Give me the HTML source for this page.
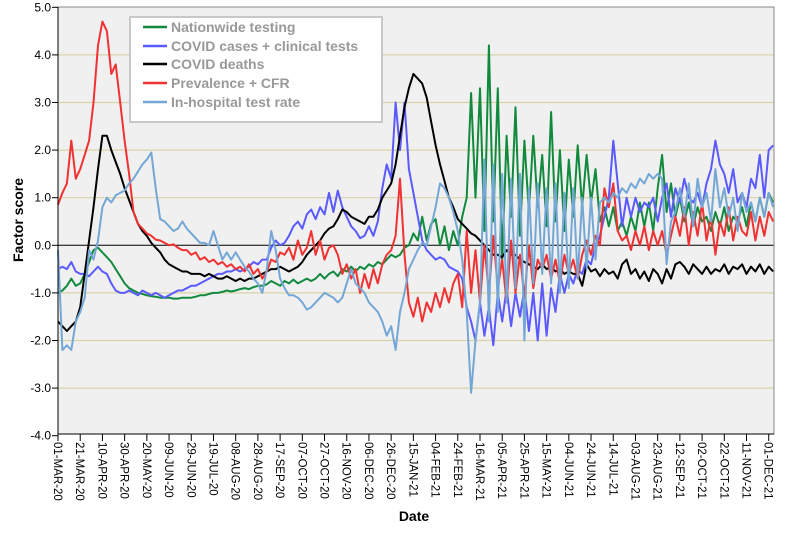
<!DOCTYPE html>
<html><head><meta charset="utf-8">
<style>
html,body{margin:0;padding:0;background:#fff;}
svg{display:block;font-family:"Liberation Sans",Arial,sans-serif;}
</style></head>
<body>
<svg id="chart" width="799" height="541" viewBox="0 0 799 541" xmlns="http://www.w3.org/2000/svg">
  <rect x="0" y="0" width="799" height="541" fill="#fff"/>
  <rect x="58" y="7" width="716" height="427" fill="#f0f0f0"/>
  <g id="grid"></g>
  <g id="series"></g>
  <rect x="58" y="7" width="716" height="427" fill="none" stroke="#888" stroke-width="1"/>
  <line x1="58" y1="7" x2="58" y2="434" stroke="#000" stroke-width="1"/>
  <line x1="58" y1="434" x2="774" y2="434" stroke="#000" stroke-width="1"/>
  <g id="yticks"></g>
  <g id="xticks"></g>
  <text x="23" y="220" transform="rotate(-90 23 220)" text-anchor="middle" font-size="14" font-weight="bold" fill="#000">Factor score</text>
  <text x="414" y="521" text-anchor="middle" font-size="14" font-weight="bold" fill="#000">Date</text>
  <g>
    <rect x="130" y="17" width="252" height="105" fill="#fff" stroke="#c8c8c8" stroke-width="2"/>
    <g>
      <line x1="143" y1="27" x2="167" y2="27" stroke="#118a3e" stroke-width="2.5"/>
      <text x="171" y="32" font-size="14" font-weight="bold" fill="#999">Nationwide testing</text>
    </g>
    <g>
      <line x1="143" y1="46" x2="167" y2="46" stroke="#5a5aff" stroke-width="2.5"/>
      <text x="171" y="51" font-size="14" font-weight="bold" fill="#999">COVID cases + clinical tests</text>
    </g>
    <g>
      <line x1="143" y1="64" x2="167" y2="64" stroke="#000" stroke-width="2.5"/>
      <text x="171" y="69" font-size="14" font-weight="bold" fill="#999">COVID deaths</text>
    </g>
    <g>
      <line x1="143" y1="83" x2="167" y2="83" stroke="#f03232" stroke-width="2.5"/>
      <text x="171" y="88" font-size="14" font-weight="bold" fill="#999">Prevalence + CFR</text>
    </g>
    <g>
      <line x1="143" y1="102" x2="167" y2="102" stroke="#74a7d6" stroke-width="2.5"/>
      <text x="171" y="107" font-size="14" font-weight="bold" fill="#999">In-hospital test rate</text>
    </g>
  </g>
</svg>
<script>
// ---- data (sampled every 4 days starting 01-MAR-20) ----
const stepDays = 4;
const yTicks = [5,4,3,2,1,0,-1,-2,-3,-4];
const xLabels = ["01-MAR-20","21-MAR-20","10-APR-20","30-APR-20","20-MAY-20","09-JUN-20","29-JUN-20","19-JUL-20","08-AUG-20","28-AUG-20","17-SEP-20","07-OCT-20","27-OCT-20","16-NOV-20","06-DEC-20","26-DEC-20","15-JAN-21","04-FEB-21","24-FEB-21","16-MAR-21","05-APR-21","25-APR-21","15-MAY-21","04-JUN-21","24-JUN-21","14-JUL-21","03-AUG-21","23-AUG-21","12-SEP-21","02-OCT-21","22-OCT-21","11-NOV-21","01-DEC-21"];
const nationwideTesting = [-1.0,-0.95,-0.85,-0.7,-0.85,-0.8,-0.6,-0.35,-0.1,-0.05,
-0.15,-0.25,-0.35,-0.5,-0.65,-0.8,-0.9,-0.95,-1.0,-1.02,
-1.05,-1.07,-1.08,-1.1,-1.1,-1.1,-1.12,-1.12,-1.1,-1.1,
-1.1,-1.08,-1.05,-1.05,-1.02,-1.0,-1.0,-0.98,-0.95,-0.97,
-0.95,-0.92,-0.9,-0.92,-0.88,-0.85,-0.85,-0.82,-0.75,-0.8,
-0.85,-0.75,-0.8,-0.72,-0.8,-0.75,-0.7,-0.75,-0.7,-0.6,
-0.7,-0.6,-0.55,-0.65,-0.5,-0.55,-0.45,-0.55,-0.45,-0.5,
-0.4,-0.45,-0.35,-0.4,-0.3,-0.2,-0.25,-0.2,-0.05,0.0,
0.25,0.1,0.6,0.1,0.45,0.55,0.0,0.4,-0.1,0.3,
0.0,0.6,1.0,3.2,1.0,3.3,0.3,4.2,0.5,3.3,
-0.3,2.3,0.6,2.9,0.2,2.2,0.7,2.3,0.8,1.9,
0.4,2.8,0.5,2.0,0.3,1.8,0.6,2.1,0.8,1.9,
0.9,1.6,0.5,0.8,0.4,0.8,0.3,0.5,0.2,0.6,
0.3,0.9,0.4,0.9,0.3,1.2,1.9,0.7,1.3,0.6,
1.0,0.5,0.9,0.4,0.8,0.5,0.6,0.3,0.7,0.4,
0.8,0.3,0.6,0.5,0.8,0.4,0.9,0.5,1.0,0.6,
1.1,0.9];
const covidCases = [-0.5,-0.45,-0.5,-0.35,-0.55,-0.6,-0.6,-0.65,-0.55,-0.45,
-0.55,-0.6,-0.8,-0.95,-1.0,-1.0,-0.95,-1.0,-1.05,-0.95,
-1.0,-1.05,-1.0,-1.05,-1.1,-1.05,-1.0,-0.95,-0.95,-0.9,
-0.85,-0.85,-0.8,-0.75,-0.7,-0.65,-0.6,-0.6,-0.55,-0.55,
-0.5,-0.55,-0.5,-0.45,-0.35,-0.4,-0.3,-0.3,-0.05,0.1,
0.0,0.05,0.2,0.4,0.5,0.35,0.65,0.75,0.55,0.8,
0.65,1.1,0.7,1.15,0.8,0.6,0.4,0.3,0.15,0.2,
0.4,0.2,0.5,1.2,1.7,1.4,3.0,2.0,3.0,1.6,
1.1,0.6,0.1,-0.1,-0.2,-0.3,-0.25,-0.3,-0.45,-0.5,
-0.55,-0.7,-1.3,-1.6,-2.0,-1.2,-1.9,-1.3,-2.1,-1.0,
-1.6,-0.9,-1.7,-1.0,-1.5,-0.9,-1.8,-1.0,-2.0,-0.8,
-1.9,-0.9,-1.4,-0.6,-1.0,-0.6,-0.8,-0.5,-0.6,-0.3,
-0.4,0.0,0.2,0.6,1.0,2.2,1.3,0.4,1.0,0.6,
1.0,0.7,0.9,0.8,1.0,0.5,1.0,1.3,0.6,1.2,
0.9,1.4,1.0,0.9,1.1,0.8,1.3,1.6,2.2,1.7,
1.5,1.1,1.6,0.9,1.1,0.8,1.4,1.2,1.9,1.0,
2.0,2.1];
const covidDeaths = [-1.6,-1.7,-1.8,-1.7,-1.6,-1.3,-0.6,0.1,0.8,1.6,
2.3,2.3,2.0,1.75,1.5,1.2,0.95,0.7,0.45,0.3,
0.2,0.05,-0.05,-0.15,-0.3,-0.4,-0.45,-0.5,-0.55,-0.55,
-0.6,-0.6,-0.6,-0.65,-0.6,-0.65,-0.7,-0.7,-0.65,-0.7,
-0.75,-0.7,-0.75,-0.7,-0.7,-0.65,-0.6,-0.55,-0.5,-0.5,
-0.45,-0.5,-0.55,-0.5,-0.45,-0.35,-0.2,-0.1,0.0,0.1,
0.25,0.35,0.4,0.55,0.75,0.7,0.6,0.55,0.5,0.45,
0.6,0.6,0.75,1.0,1.15,1.3,1.7,2.3,2.9,3.3,
3.6,3.5,3.4,3.1,2.6,2.1,1.7,1.35,1.0,0.8,
0.55,0.45,0.35,0.25,0.2,0.1,0.0,-0.1,-0.2,-0.2,
-0.25,-0.1,-0.2,-0.2,-0.3,-0.35,-0.4,-0.45,-0.5,-0.4,
-0.5,-0.45,-0.55,-0.5,-0.6,-0.55,-0.6,-0.6,-0.85,-0.4,
-0.55,-0.5,-0.65,-0.5,-0.6,-0.55,-0.7,-0.4,-0.3,-0.6,
-0.5,-0.7,-0.55,-0.75,-0.5,-0.6,-0.8,-0.5,-0.7,-0.4,
-0.35,-0.45,-0.6,-0.4,-0.5,-0.6,-0.45,-0.6,-0.5,-0.55,
-0.4,-0.6,-0.45,-0.5,-0.4,-0.6,-0.45,-0.55,-0.4,-0.6,
-0.45,-0.55];
const prevalenceCfr = [0.85,1.1,1.3,2.2,1.4,1.6,1.9,2.2,3.0,4.2,
4.7,4.5,3.6,3.8,3.0,2.2,1.5,0.7,0.45,0.35,
0.25,0.2,0.12,0.1,0.05,0.0,0.02,-0.05,-0.1,-0.1,
-0.2,-0.15,-0.3,-0.25,-0.35,-0.3,-0.4,-0.35,-0.45,-0.4,
-0.5,-0.45,-0.55,-0.4,-0.6,-0.5,-0.7,-0.55,-0.3,-0.35,
-0.15,-0.2,-0.05,-0.3,0.1,-0.2,-0.05,0.3,-0.2,0.1,
-0.3,-0.05,0.0,-0.2,-0.6,-0.4,-0.7,-0.5,-1.0,-0.6,
-0.9,-0.5,-0.8,-0.4,-0.2,-0.1,0.2,1.4,-0.2,-1.2,
-1.5,-1.1,-1.6,-1.2,-1.4,-1.0,-1.3,-0.9,-1.2,-0.8,
-0.6,-1.3,0.3,-1.0,-0.1,-1.2,0.0,-1.0,0.2,-0.9,
-0.3,-1.2,0.1,-1.0,-0.2,-1.1,0.0,-0.9,-0.3,-0.5,
-0.2,-0.7,-0.3,-0.8,-0.2,-0.6,-0.3,-0.7,-0.2,0.1,
-0.2,0.2,0.0,1.2,0.8,1.3,0.3,0.1,0.2,-0.1,
0.3,0.0,0.4,-0.1,0.3,0.0,0.3,-0.2,0.2,0.6,
0.2,0.8,0.0,0.7,0.2,0.9,0.1,0.6,-0.2,0.5,
0.2,0.8,0.1,0.6,0.3,0.2,0.7,0.1,0.6,0.2,
0.7,0.5];
const inHospitalTestRate = [-0.1,-2.2,-2.1,-2.2,-1.6,-1.4,-1.1,-0.1,-0.3,0.1,
0.8,1.0,0.9,1.05,1.1,1.15,1.3,1.4,1.55,1.7,
1.8,1.95,1.2,0.55,0.5,0.4,0.3,0.35,0.5,0.35,
0.25,0.15,0.05,0.05,0.0,0.3,0.0,-0.3,-0.15,-0.3,
-0.15,-0.3,-0.45,-0.55,-0.7,-0.8,-1.0,-0.5,0.3,-0.1,
-0.7,-0.9,-1.05,-1.05,-1.1,-1.2,-1.35,-1.3,-1.2,-1.1,
-1.0,-1.05,-1.1,-1.2,-1.1,-0.8,-0.5,-0.8,-0.9,-1.0,
-1.2,-1.3,-1.4,-1.6,-1.9,-1.7,-2.2,-1.4,-1.0,-0.5,
-0.3,-0.1,0.05,0.0,0.4,0.8,1.3,1.2,1.0,0.7,
0.3,-0.3,-1.4,-3.1,-2.0,-1.2,1.8,-1.6,1.7,-1.4,
1.5,-1.2,1.4,-0.9,1.5,-2.0,1.2,-0.8,1.3,-0.6,
1.2,-0.8,1.3,-1.0,1.1,-0.9,1.2,-0.7,1.0,-0.5,
1.0,-0.3,0.9,1.0,0.9,1.1,1.0,1.2,1.1,1.3,
1.2,1.4,1.3,1.5,1.4,1.5,1.4,-0.4,0.5,0.7,
1.2,0.6,1.3,0.4,1.4,0.8,1.1,0.5,1.6,0.8,
1.2,0.6,1.0,0.3,1.1,0.7,0.9,0.5,1.0,0.6,
1.1,0.8];

// ---- axes ----
const X0 = 58, PX_PER_DAY = 1.1105;
const Y0 = 245.3, PX_PER_UNIT = 47.6;
function xScale(day){ return X0 + day*PX_PER_DAY; }
function yScale(v){ return Y0 - v*PX_PER_UNIT; }
const NS = "http://www.w3.org/2000/svg";
function mk(tag, attrs, parent){
  const el = document.createElementNS(NS, tag);
  for (const k in attrs) el.setAttribute(k, attrs[k]);
  parent.appendChild(el);
  return el;
}
const grid = document.getElementById('grid');
const yt = document.getElementById('yticks');
yTicks.forEach(v => {
  const y = yScale(v);
  if (v !== 0 && v !== 5 && v !== -4) {
    const g = mk('line', {x1:58, y1:y, x2:774, y2:y, stroke:'#d9d3a8', 'stroke-width':1.2}, grid);
    
    
  }
  const t = mk('line', {x1:52, y1:y, x2:58, y2:y, stroke:'#000', 'stroke-width':1}, yt);
  
  
  const lb = mk('text', {x:51, y:y+4, 'text-anchor':'end', 'font-size':12, fill:'#000'}, yt);
  lb.textContent = v.toFixed(1);
  
  
});
const zl = mk('line', {x1:58, y1:yScale(0), x2:774, y2:yScale(0), stroke:'#000', 'stroke-width':1}, grid);



const xt = document.getElementById('xticks');
xLabels.forEach((lab, i) => {
  const x = xScale(i*20);
  const t = mk('line', {x1:x, y1:434, x2:x, y2:441, stroke:'#000', 'stroke-width':1}, xt);
  
  
  const tx = x - 4, ty = 442;
  const lb = mk('text', {x:tx, y:ty, 'font-size':11.5, fill:'#000', transform:'rotate(90 '+tx+' '+ty+')'}, xt);
  lb.textContent = lab;
  
  
});

// ---- series ----
const seriesG = document.getElementById('series');
function drawSeries(vals, color, name){
  let d = '';
  vals.forEach((v, i) => {
    d += (i ? 'L' : 'M') + xScale(i*stepDays).toFixed(1) + ' ' + yScale(v).toFixed(1);
  });
  const p = mk('path', {d:d, fill:'none', stroke:color, 'stroke-width':2, 'stroke-linejoin':'round'}, seriesG);
  
  
}
drawSeries(nationwideTesting, '#118a3e', 'nationwide-testing-line');
drawSeries(covidCases, '#5a5aff', 'covid-cases-line');
drawSeries(covidDeaths, '#000000', 'covid-deaths-line');
drawSeries(prevalenceCfr, '#f03232', 'prevalence-cfr-line');
drawSeries(inHospitalTestRate, '#74a7d6', 'in-hospital-test-rate-line');
</script>
</body></html>
